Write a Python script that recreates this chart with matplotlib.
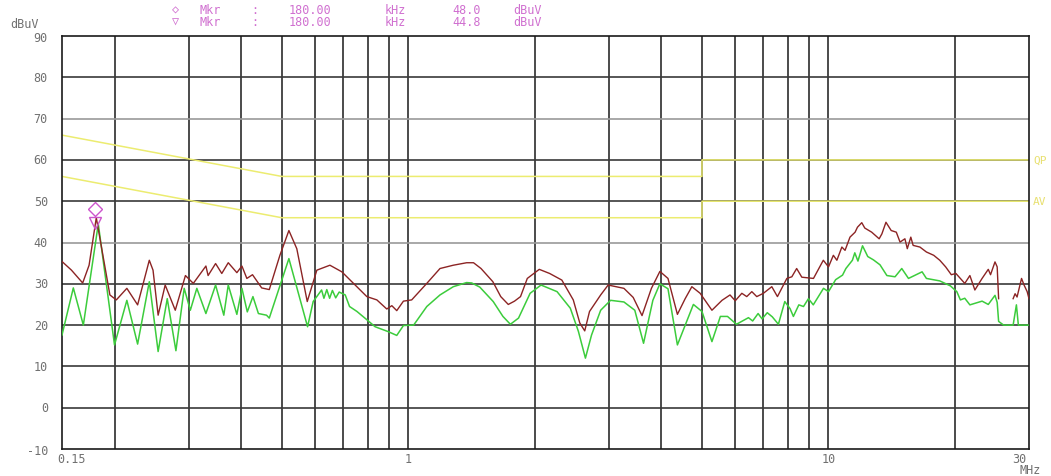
import numpy as np
import matplotlib
matplotlib.use("Agg")
import matplotlib.pyplot as plt

# ---------------- data ----------------
# Peak / QP trace (dark red), frequency in MHz, level in dBuV
qp_freq = [0.150, 0.158, 0.168, 0.174, 0.181, 0.195, 0.202, 0.214, 0.227, 0.242, 0.247,
           0.254, 0.264, 0.279, 0.295, 0.308, 0.330, 0.334, 0.348, 0.360, 0.373, 0.391,
           0.402, 0.413, 0.426, 0.448, 0.467, 0.495, 0.520, 0.543, 0.575, 0.606, 0.651,
           0.695, 0.741, 0.797, 0.842, 0.889, 0.914, 0.939, 0.974, 1.019, 1.107, 1.19,
           1.28, 1.377, 1.43, 1.49, 1.59, 1.66, 1.73, 1.79, 1.85, 1.92, 2.05, 2.17, 2.32,
           2.47, 2.56, 2.63, 2.70, 2.87, 2.99, 3.26, 3.43, 3.60, 3.79, 3.97, 4.15, 4.37,
           4.56, 4.73, 4.95, 5.28, 5.58, 5.83, 6.00, 6.22, 6.39, 6.57, 6.75, 7.00, 7.33,
           7.56, 7.96, 8.18, 8.40, 8.64, 9.21, 9.72, 10.0, 10.27, 10.47, 10.76, 10.95,
           11.25, 11.57, 11.72, 12.0, 12.2, 12.67, 13.2, 13.4, 13.7, 14.1, 14.5, 14.8,
           15.2, 15.4, 15.7, 15.9, 16.5, 17.1, 17.8, 18.4, 19.0, 19.6, 20.1, 21.1, 21.7,
           22.3, 23.2, 24.0, 24.3, 24.9, 25.2, 25.4, 25.45, 27.45, 27.5, 27.8, 28.1, 28.8,
           29.2, 29.7, 30.0]
qp_level = [35.4, 33.3, 30.2, 34.5, 46.0, 27.3, 26.1, 28.9, 24.9, 35.7, 33.3,
            22.4, 29.7, 23.6, 32.0, 30.1, 34.3, 32.0, 34.9, 32.5, 35.1, 32.7,
            34.3, 31.3, 32.2, 29.0, 28.6, 36.9, 42.9, 38.5, 25.7, 33.3, 34.5,
            32.9, 30.1, 26.9, 26.1, 23.9, 24.7, 23.5, 25.8, 26.1, 30.1, 33.7,
            34.5, 35.1, 35.1, 33.7, 30.5, 26.9, 25.0, 25.8, 26.9, 31.3, 33.5, 32.5, 30.9,
            26.1, 20.5, 18.6, 23.3, 27.3, 29.7, 28.9, 26.7, 22.3, 28.9, 33.0, 31.3, 22.6,
            26.4, 29.3, 27.7, 23.6, 26.0, 27.3, 25.9, 27.7, 26.9, 28.1, 26.9, 27.7, 29.3,
            26.9, 31.3, 31.7, 33.7, 31.6, 31.3, 35.7, 34.1, 36.9, 35.7, 38.9, 38.1,
            41.3, 42.5, 43.7, 44.8, 43.5, 42.5, 40.9, 42.1, 44.9, 42.9, 42.5, 40.1,
            40.9, 38.5, 41.3, 39.3, 38.9, 37.7, 36.9, 35.7, 34.1, 32.2, 32.5, 30.1, 32.0,
            28.5, 31.3, 33.5, 32.2, 35.3, 34.1, 26.4, np.nan, np.nan, 26.4, 27.6, 26.8, 31.3,
            29.7, 28.1, 26.4]

# Average trace (green)
av_freq = [0.150, 0.1596, 0.1686, 0.183, 0.200, 0.214, 0.227, 0.242, 0.254, 0.267, 0.280,
           0.293, 0.303, 0.314, 0.330, 0.348, 0.364, 0.373, 0.391, 0.402, 0.414, 0.427,
           0.440, 0.460, 0.467, 0.520, 0.576, 0.594, 0.622, 0.630, 0.640, 0.650, 0.660,
           0.672, 0.685, 0.708, 0.725, 0.755, 0.797, 0.834, 0.897, 0.939, 0.974, 1.03,
           1.107, 1.19, 1.28, 1.377, 1.416, 1.48, 1.593, 1.68, 1.75, 1.83, 1.95, 2.07,
           2.26, 2.43, 2.54, 2.64, 2.73, 2.87, 3.03, 3.26, 3.46, 3.63, 3.82, 3.97, 4.15,
           4.37, 4.77, 5.0, 5.28, 5.53, 5.75, 6.04, 6.45, 6.6, 6.8, 6.95, 7.15, 7.35, 7.6,
           7.87, 8.1, 8.25, 8.5, 8.72, 8.96, 9.2, 9.73, 10.0, 10.4, 10.8, 11.0, 11.4,
           11.55, 11.75, 12.05, 12.4, 12.79, 13.26, 13.77, 14.4, 14.94, 15.5, 16.7, 17.1,
           18.4, 19.5, 20.2, 20.6, 21.1, 21.7, 23.2, 24.0, 24.9, 25.2, 25.4, 26.1, 27.5,
           28.0, 28.3, 30.0]
av_level = [17.6, 29.0, 20.0, 44.5, 15.2, 26.0, 15.4, 30.5, 13.6, 26.4, 13.8,
            28.9, 23.6, 28.9, 22.8, 29.7, 22.4, 29.7, 22.6, 28.9, 23.2, 26.9,
            22.8, 22.4, 21.7, 36.1, 19.6, 25.7, 28.5, 26.5, 28.6, 26.5, 28.4,
            26.6, 28.0, 27.3, 24.5, 23.3, 21.3, 19.6, 18.4, 17.5, 19.9, 20.0,
            24.5, 27.3, 29.3, 30.3, 30.2, 29.2, 25.7, 22.1, 20.2, 21.7, 27.7, 29.7,
            28.1, 24.1, 18.5, 12.0, 17.6, 23.6, 26.0, 25.6, 23.6, 15.6, 26.0, 30.0, 28.8,
            15.2, 25.0, 23.3, 16.0, 22.1, 22.1, 20.2, 21.8, 21.0, 22.8, 21.5, 23.0, 22.0, 20.2,
            25.7, 24.0, 22.1, 24.9, 24.5, 26.4, 24.9, 28.9, 28.1, 31.0, 32.1, 33.7, 35.7,
            37.5, 35.5, 39.2, 36.6, 35.8, 34.6, 32.0, 31.7, 33.7, 31.3, 32.9, 31.3,
            30.7, 29.5, 28.1, 26.1, 26.5, 24.9, 25.8, 25.0, 27.2, 25.5, 20.9, 20.0, 20.0,
            24.9, 20.0, 20.0]

# Limit lines (QP and AV)
lim_freq = [0.15, 0.5, 5.0, 5.0, 30.0]
qp_limit = [66, 56, 56, 60, 60]
av_limit = [56, 46, 46, 50, 50]

# Markers
mkr_freq = 0.18
mkr_peak = 48.0
mkr_avg = 44.8

x_ticks = [0.15, 1, 10, 30]
x_tick_labels = ["0.15", "1", "10", "30"]
y_ticks = list(range(-10, 91, 10))
v_grid = [0.2, 0.3, 0.4, 0.5, 0.6, 0.7, 0.8, 0.9, 1, 2, 3, 4, 5, 6, 7, 8, 9, 10, 20]

# ---------------- figure ----------------
W, H = 1051, 477
fig = plt.figure(figsize=(W / 100, H / 100), dpi=100)
L, R, T, B = 62, 1029, 37, 450
ax = fig.add_axes([L / W, 1 - B / H, (R - L) / W, (B - T) / H])
ax.set_xscale("log")
ax.set_xlim(0.15, 30)
ax.set_ylim(-10, 90)

for f in v_grid:
    ax.axvline(f, color="#1a1a1a", lw=1.1, zorder=1)
for y in y_ticks[1:-1]:
    col = "#9a9a9a" if y in (40, 70) else "#3a3a3a"
    ax.axhline(y, color=col, lw=1.2, zorder=1)

ax.plot(lim_freq, qp_limit, color="#ecec70", lw=1.1, zorder=2)
ax.plot(lim_freq, av_limit, color="#ecec70", lw=1.1, zorder=2)

ax.plot(av_freq, av_level, color="#3ccc3c", lw=1.1, zorder=3)
ax.plot(qp_freq, qp_level, color="#8c2424", lw=1.0, zorder=4)

ax.plot([mkr_freq], [mkr_peak], marker="D", ms=7, mfc="none", mec="#cc55cc", mew=1.0, zorder=5)
ax.plot([mkr_freq], [mkr_avg], marker="v", ms=8, mfc="none", mec="#cc55cc", mew=1.0, zorder=5)

for s in ax.spines.values():
    s.set_color("#1a1a1a")
    s.set_linewidth(1.2)
ax.set_xticks([])
ax.set_yticks([])
ax.minorticks_off()

mono = "DejaVu Sans Mono"
tcol = "#707070"
fs = 9

def px(x, y, s, **kw):
    fig.text(x / W, 1 - y / H, s, family=mono, fontsize=kw.pop("fontsize", fs),
             color=kw.pop("color", tcol), **kw)

# y tick labels
for v in y_ticks:
    ypx = B - (v + 10) * (B - T) / 100.0
    if v == -10:
        ypx += 2
    if v == 90:
        ypx += 1
    px(48, ypx, str(v), ha="right", va="center", fontsize=8.5)

# x tick labels
def xpix(f):
    return L + (R - L) * np.log10(f / 0.15) / np.log10(30 / 0.15)

for f, lab in zip(x_ticks, x_tick_labels):
    xx = xpix(f)
    if f == 0.15:
        xx += 10
    if f == 30:
        xx -= 10
    px(xx, 460, lab, ha="center", va="center", fontsize=8.5)
px(1030, 471, "MHz", ha="center", va="center", fontsize=8.5)

px(10, 24, "dBuV", ha="left", va="center", fontsize=8.5)

# marker header
pink = "#d070d0"
for yy, sym, val in [(10, "\u25C7", "48.0"), (22, "\u25BD", "44.8")]:
    px(176, yy, sym, ha="center", va="center", color=pink, fontsize=8.5)
    px(199, yy, "Mkr", ha="left", va="center", color=pink, fontsize=8.5)
    px(255, yy, ":", ha="center", va="center", color=pink, fontsize=8.5)
    px(289, yy, "180.00", ha="left", va="center", color=pink, fontsize=8.5)
    px(385, yy, "kHz", ha="left", va="center", color=pink, fontsize=8.5)
    px(452, yy, val, ha="left", va="center", color=pink, fontsize=8.5)
    px(513, yy, "dBuV", ha="left", va="center", color=pink, fontsize=8.5)

# limit labels (cut off at the right edge)
ycol = "#e8e070"
px(1033, B - 70 * (B - T) / 100.0, "QP", ha="left", va="center", color=ycol, fontsize=8)
px(1033, B - 60 * (B - T) / 100.0, "AV", ha="left", va="center", color=ycol, fontsize=8)

fig.savefig("out.png", dpi=100)
